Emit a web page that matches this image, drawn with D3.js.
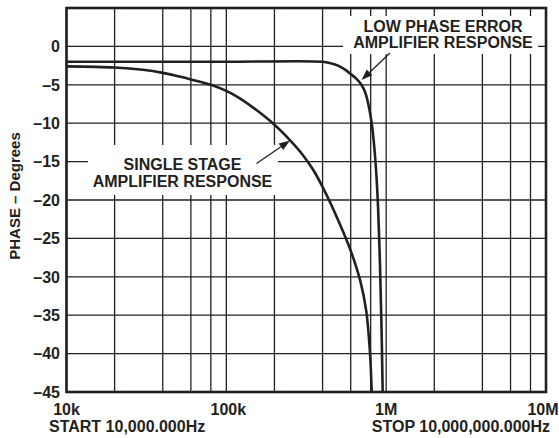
<!DOCTYPE html>
<html>
<head>
<meta charset="utf-8">
<script src="https://cdn.jsdelivr.net/npm/d3@7"></script>
<style>
  html, body { margin: 0; padding: 0; background: #fff; }
  svg { display: block; }
  text { font-family: "Liberation Sans", Arial, Helvetica, sans-serif; font-weight: bold; fill: #231f20; }
</style>
</head>
<body>
<script>
// Phase response, degrees vs frequency (Hz)
const singleStageFreq  = [1e4, 2e4, 3e4, 4e4, 5e4, 6e4, 8e4, 1e5, 1.2e5, 1.5e5, 2e5, 2.5e5, 3e5, 3.5e5, 4e5, 5e5, 6e5, 6.9e5, 7.5e5, 7.9e5, 8.12e5];
const singleStagePhase = [-2.6, -2.75, -3.05, -3.45, -3.9, -4.3, -5.0, -5.8, -6.7, -8.1, -10.2, -12.2, -14.1, -16.1, -18.3, -22.6, -26.6, -30.6, -34.4, -39.5, -45.0];

const lowErrorFreq  = [1e4, 1e5, 4e5, 4.5e5, 5e5, 5.5e5, 6e5, 6.5e5, 7e5, 7.4e5, 7.73e5, 8.12e5, 8.4e5, 8.64e5, 8.9e5, 9.15e5, 9.35e5, 9.51e5];
const lowErrorPhase = [-2.0, -2.0, -2.0, -2.2, -2.5, -3.0, -3.6, -4.2, -5.0, -6.0, -7.5, -10.0, -12.8, -16.0, -21.0, -28.5, -36.5, -45.0];

const yTicks = [0, -5, -10, -15, -20, -25, -30, -35, -40, -45];
const xTickValues = [1e4, 1e5, 1e6, 1e7];
const xTickLabels = ["10k", "100k", "1M", "10M"];
const gridMultipliers = [1, 2, 4, 6, 8];

const W = 559, H = 438;
const plotL = 66.5, plotR = 546, plotT = 8, plotB = 392;

const x = d3.scaleLog().domain([1e4, 1e7]).range([plotL, plotR]);
const y = d3.scaleLinear().domain([5, -45]).range([plotT, plotB]);

const svg = d3.select("body").append("svg").attr("width", W).attr("height", H);
const ink = "#231f20";

// vertical grid: 1, 2, 4, 6, 8 in each decade
const vGrid = [];
[1e4, 1e5, 1e6].forEach(d => gridMultipliers.forEach(m => vGrid.push(d * m)));
svg.append("g").selectAll("line").data(vGrid).join("line")
  .attr("x1", d => x(d)).attr("x2", d => x(d))
  .attr("y1", plotT).attr("y2", plotB)
  .attr("stroke", ink).attr("stroke-width", 1.3);

// horizontal grid every 5 degrees
svg.append("g").selectAll("line").data(yTicks).join("line")
  .attr("x1", plotL).attr("x2", plotR)
  .attr("y1", d => y(d)).attr("y2", d => y(d))
  .attr("stroke", ink).attr("stroke-width", 1.3);

// white panels behind the annotation text
svg.append("rect").attr("x", 343).attr("y", 16).attr("width", 195).attr("height", 38).attr("fill", "#fff");
svg.append("rect").attr("x", 88).attr("y", 145).attr("width", 190).attr("height", 50).attr("fill", "#fff");

// curves
const line = d3.line().curve(d3.curveCatmullRom.alpha(0.5));
function pts(fs, ps) { return fs.map((f, i) => [x(f), y(ps[i])]); }

svg.append("path").attr("d", line(pts(singleStageFreq, singleStagePhase)))
  .attr("fill", "none").attr("stroke", ink).attr("stroke-width", 2.6);
svg.append("path").attr("d", line(pts(lowErrorFreq, lowErrorPhase)))
  .attr("fill", "none").attr("stroke", ink).attr("stroke-width", 2.6);

// annotation arrows
function arrow(x1, y1, x2, y2) {
  const ang = Math.atan2(y2 - y1, x2 - x1);
  const len = 11, half = 4;
  const bx = x2 - len * Math.cos(ang), by = y2 - len * Math.sin(ang);
  svg.append("line").attr("x1", x1).attr("y1", y1).attr("x2", bx).attr("y2", by)
    .attr("stroke", ink).attr("stroke-width", 1.3);
  const px = -Math.sin(ang) * half, py = Math.cos(ang) * half;
  svg.append("path")
    .attr("d", `M${x2},${y2}L${bx + px},${by + py}L${bx - px},${by - py}Z`)
    .attr("fill", ink);
}
arrow(390, 53, 361.5, 80);
arrow(256.5, 163.5, 290, 140.5);

// annotation text
const note = svg.append("g").attr("text-anchor", "middle").style("font-size", "16px");
note.append("text").attr("x", 443).attr("y", 31.5).text("LOW PHASE ERROR");
note.append("text").attr("x", 443).attr("y", 47.5).text("AMPLIFIER RESPONSE");
note.append("text").attr("x", 182.5).attr("y", 170).text("SINGLE STAGE");
note.append("text").attr("x", 182.5).attr("y", 186.5).text("AMPLIFIER RESPONSE");

// frame
svg.append("rect").attr("x", plotL).attr("y", plotT).attr("width", plotR - plotL).attr("height", plotB - plotT)
  .attr("fill", "none").attr("stroke", ink).attr("stroke-width", 2.6);

// y tick labels
svg.append("g").attr("text-anchor", "end").style("font-size", "16px")
  .selectAll("text").data(yTicks).join("text")
  .attr("x", 60).attr("y", d => y(d)).attr("dy", "0.36em")
  .text(d => d === 0 ? "0" : "\u2013" + Math.abs(d));

// x tick labels
svg.append("g").attr("text-anchor", "middle").style("font-size", "16px")
  .selectAll("text").data(xTickValues).join("text")
  .attr("x", (d, i) => i === 3 ? x(d) - 3 : (i === 1 ? x(d) + 2 : x(d))).attr("y", 415)
  .text((d, i) => xTickLabels[i]);

svg.append("text").attr("x", 49).attr("y", 432).style("font-size", "16px").text("START 10,000.000Hz");
svg.append("text").attr("x", 550).attr("y", 432).attr("text-anchor", "end").style("font-size", "16px").text("STOP 10,000,000.000Hz");

// y axis title
svg.append("text").attr("transform", "translate(19.5,196) rotate(-90)")
  .attr("text-anchor", "middle").style("font-size", "15px").text("PHASE \u2013 Degrees");
</script>
</body>
</html>
